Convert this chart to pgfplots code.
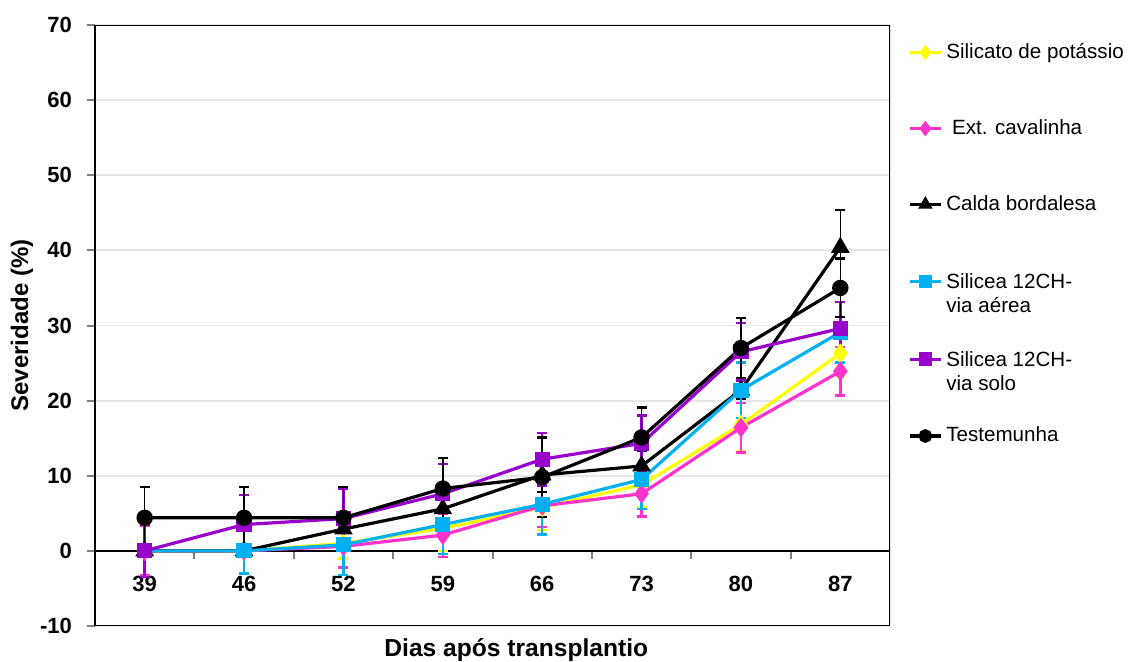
\documentclass[border=0pt]{standalone}
\usepackage{fontspec}
\setmainfont{Liberation Sans}
\usepackage{pgfplots}
\pgfplotsset{compat=1.18}
\definecolor{silyellow}{RGB}{255,255,0}
\definecolor{cavpink}{RGB}{255,51,204}
\definecolor{aercyan}{RGB}{0,176,240}
\definecolor{solpurple}{RGB}{153,0,204}
\definecolor{gridgray}{RGB}{230,230,230}

% columns: index, value, error  (x: 39 46 52 59 66 73 80 87)

\begin{document}
\begin{tikzpicture}
\useasboundingbox (-47.5pt,-18pt) rectangle (517pt,313pt);
\begin{axis}[
    scale only axis,
    width=397.5pt, height=300.5pt,
    xmin=-0.5, xmax=7.5,
    ymin=-10, ymax=70,
    axis x line=middle,
    axis y line=left,
    axis line style={-, line width=1.2pt},
    hide obscured x ticks=false,
    hide obscured y ticks=false,
    xtick={0,1,2,3,4,5,6,7},
    xticklabels={39,46,52,59,66,73,80,87},
    minor xtick={0.5,1.5,2.5,3.5,4.5,5.5,6.5},
    major x tick style={draw=none},
    minor x tick style={line width=1pt},
    minor tick length=4pt,
    ytick={-10,0,10,20,30,40,50,60,70},
    ytick style={line width=1pt},
    major tick length=4pt,
    tick align=outside,
    ymajorgrids=true,
    grid style={gridgray, line width=0.9pt},
    /pgf/number format/assume math mode=true,
    ticklabel style={font=\bfseries\fontsize{11}{13}\selectfont},
    xticklabel style={yshift=-5pt},
    yticklabel style={xshift=-4pt},
    xlabel={Dias após transplantio},
    ylabel={Severidade (\%)},
    xlabel style={font=\bfseries\fontsize{12.3}{14}\selectfont,
        at={(axis description cs:0.53,0)}, anchor=north, yshift=-2.5pt},
    ylabel style={font=\bfseries\fontsize{12}{14}\selectfont,
        at={(axis description cs:0,0.5)}, anchor=center, yshift=36.5pt},
    every axis plot/.append style={line width=1.6pt},
    error bars/y dir=both,
    error bars/y explicit,
    error bars/error mark options={rotate=90, mark size=2.5pt, line width=1.2pt},
    error bars/error bar style={line width=1.2pt},
    legend style={draw=none, fill=none, at={(1,1)}, anchor=north west,
        xshift=6pt, yshift=-5pt, row sep=25pt,
        font=\fontsize{10.3}{12}\selectfont},
    legend cell align=left,
    legend image code/.code={
        \draw[mark repeat=2,mark phase=2, mark size=2.6pt] plot coordinates {(0cm,0cm)(0.27cm,0cm)(0.54cm,0cm)};},
]
\draw[line width=1.2pt] (rel axis cs:0,0) rectangle (rel axis cs:1,1);

\addplot[color=silyellow, mark=diamond*, mark size=3.6pt,
    error bars/error bar style={silyellow}]
    table[x=i, y=v, y error=e] {
    i v e
    0 0 0.5
    1 0 0.5
    2 1.0 2.0
    3 3.0 3.0
    4 5.8 3.0
    5 8.8 3.0
    6 16.8 3.5
    7 26.3 3.0
    };
\addlegendentry{Silicato de potássio}

\addplot[color=cavpink, mark=diamond*, mark size=3.6pt,
    error bars/error bar style={cavpink}]
    table[x=i, y=v, y error=e] {
    i v e
    0 0 3.3
    1 0 3.0
    2 0.6 2.8
    3 2.1 2.9
    4 6.0 2.8
    5 7.6 3.0
    6 16.4 3.3
    7 23.9 3.2
    };
\addlegendentry{\ Ext. cavalinha}

\addplot[color=black, mark=triangle*, mark size=3.8pt,
    error bars/error bar style={black, line width=0.8pt}]
    table[x=i, y=v, y error=e] {
    i v e
    0 0 0.8
    1 0 0.8
    2 2.9 1.5
    3 5.6 1.5
    4 10.1 2.3
    5 11.3 2.0
    6 21.4 1.2
    7 40.4 5.0
    };
\addlegendentry{Calda bordalesa}

\addplot[color=aercyan, mark=square*, mark size=3pt,
    error bars/error bar style={aercyan}]
    table[x=i, y=v, y error=e] {
    i v e
    0 0 0.5
    1 0 3.0
    2 0.8 4.0
    3 3.5 3.9
    4 6.2 4.0
    5 9.5 3.9
    6 21.4 3.7
    7 29.1 4.0
    };
\addlegendentry{\begin{tabular}[t]{@{}l@{}}Silicea 12CH-\\via aérea\end{tabular}}

\addplot[color=solpurple, mark=square*, mark size=3pt,
    error bars/error bar style={solpurple}]
    table[x=i, y=v, y error=e] {
    i v e
    0 0 3.5
    1 3.5 3.9
    2 4.3 4.0
    3 7.6 4.0
    4 12.2 3.5
    5 14.3 3.7
    6 26.5 3.8
    7 29.6 3.5
    };
\addlegendentry{\begin{tabular}[t]{@{}l@{}}Silicea 12CH-\\via solo\end{tabular}}

\addplot[color=black, mark=*, mark size=3.3pt,
    error bars/error bar style={black, line width=0.8pt}]
    table[x=i, y=v, y error=e] {
    i v e
    0 4.4 4.1
    1 4.4 4.1
    2 4.4 4.1
    3 8.3 4.1
    4 9.8 5.3
    5 15.1 4.0
    6 27.0 4.0
    7 35.0 3.9
    };
\addlegendentry{Testemunha}
\end{axis}
\end{tikzpicture}
\end{document}
